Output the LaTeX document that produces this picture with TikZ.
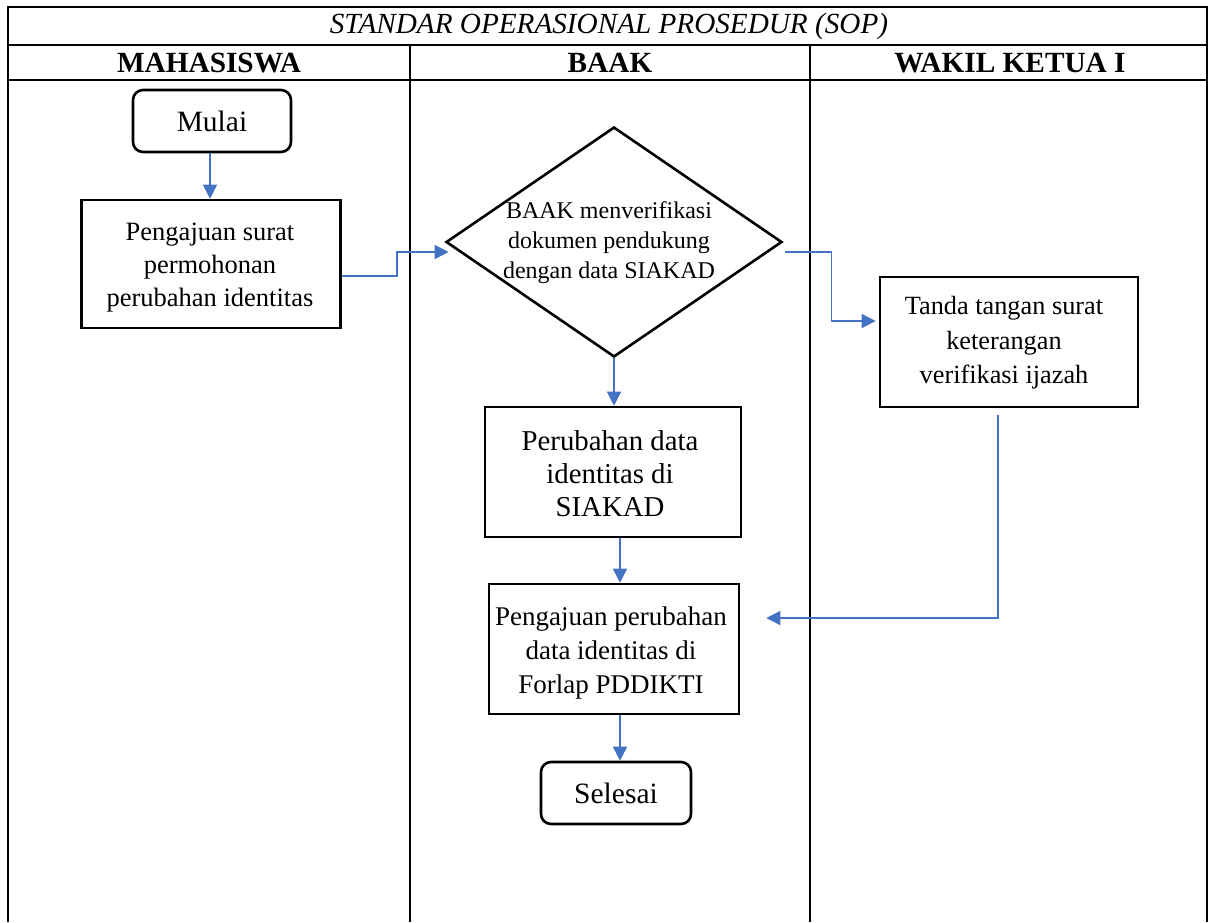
\documentclass[tikz,border=0pt]{standalone}
\usepackage{fontspec}
\setmainfont{Liberation Serif}
\usetikzlibrary{arrows.meta,shapes.geometric,calc}
\definecolor{flowblue}{HTML}{4472C4}
\begin{document}
\begin{tikzpicture}[x=1pt,y=-1pt,
  grid/.style={line width=1.8pt,black},
  bodytext/.style={font=\fontsize{26.5}{33}\selectfont,align=center},
  stepbox/.style={draw,line width=2.6pt,inner sep=0pt,minimum width=#1},
  endbox/.style={draw,line width=2.6pt,rounded corners=10pt,inner sep=0pt,
                 minimum width=#1,minimum height=62pt,
                 font=\fontsize{29.5}{33}\selectfont},
  decision/.style={draw,line width=2.6pt,diamond,inner sep=0pt,
                   minimum width=336pt,minimum height=230pt},
  arr/.style={draw=flowblue,line width=1.5pt,
              -{Triangle[length=14pt,width=14pt,fill=flowblue]}},
  hdr/.style={font=\fontsize{29.3}{30}\selectfont\bfseries}]
\useasboundingbox (0,0) rectangle (1209,922);

% swimlane table
\draw[grid] (8,922) -- (8,7) -- (1207,7) -- (1207,922);
\draw[grid] (8,45) -- (1207,45);
\draw[grid] (8,80) -- (1207,80);
\draw[grid] (410,45) -- (410,922);
\draw[grid] (810,45) -- (810,922);

\node[font=\fontsize{29.2}{30}\selectfont\itshape] (title) at (609,26) {STANDAR OPERASIONAL PROSEDUR (SOP)};
\node[hdr] (h1) at (209,63) {MAHASISWA};
\node[hdr] (h2) at (610,63) {BAAK};
\node[hdr] (h3) at (1010,63) {WAKIL KETUA I};

% flow steps
\node[endbox=158pt] (m) at (212,121) {Mulai};
\node[stepbox=259pt,minimum height=128pt] (p1) at (211,264) {};
\node[bodytext] (p1t) at (210,268) {Pengajuan surat\\permohonan\\perubahan identitas};

\node[decision] (d1) at (614,242) {};
\node[font=\fontsize{24}{30}\selectfont,align=center] (d1t) at (609,243)
  {BAAK menverifikasi\\dokumen pendukung\\dengan data SIAKAD};

\node[stepbox=258pt,minimum height=130pt] (t1) at (1009,342) {};
\node[align=center,font=\fontsize{26.3}{34.5}\selectfont] (t1t) at (1004,343)
  {Tanda tangan surat\\keterangan\\verifikasi ijazah};

\node[stepbox=256pt,minimum height=130pt] (p2) at (613,472) {};
\node[align=center,font=\fontsize{28.8}{33}\selectfont] (p2t) at (610,474) {Perubahan data\\identitas di\\SIAKAD};

\node[stepbox=250pt,minimum height=130pt] (p3) at (614,649) {};
\node[align=center,font=\fontsize{27}{34}\selectfont] (p3t) at (611,653) {Pengajuan perubahan\\data identitas di\\Forlap PDDIKTI};

\node[endbox=150pt] (s) at (616,793) {Selesai};

% connectors
\draw[arr] ([xshift=-2pt]m.south) -- ([xshift=-2pt]m.south |- p1.north);
\draw[arr] ([yshift=-12pt]p1.east) -- ++(55,0) |- ([xshift=4pt,yshift=-10pt]d1.west);
\draw[arr] ([xshift=2pt,yshift=-10pt]d1.east) -- ++(46,0) |- ([xshift=-3pt,yshift=21pt]t1.west);
\draw[arr] (d1.south) -- (d1.south |- p2.north);
\draw[arr] ([xshift=7pt]p2.south) -- ([xshift=7pt]p2.south |- p3.north);
\draw[arr] ([xshift=-11pt,yshift=-7pt]t1.south) |- ([xshift=26pt,yshift=31pt]p3.east);
\draw[arr] ([xshift=6pt]p3.south) -- ([xshift=6pt]p3.south |- s.north);
\end{tikzpicture}
\end{document}
